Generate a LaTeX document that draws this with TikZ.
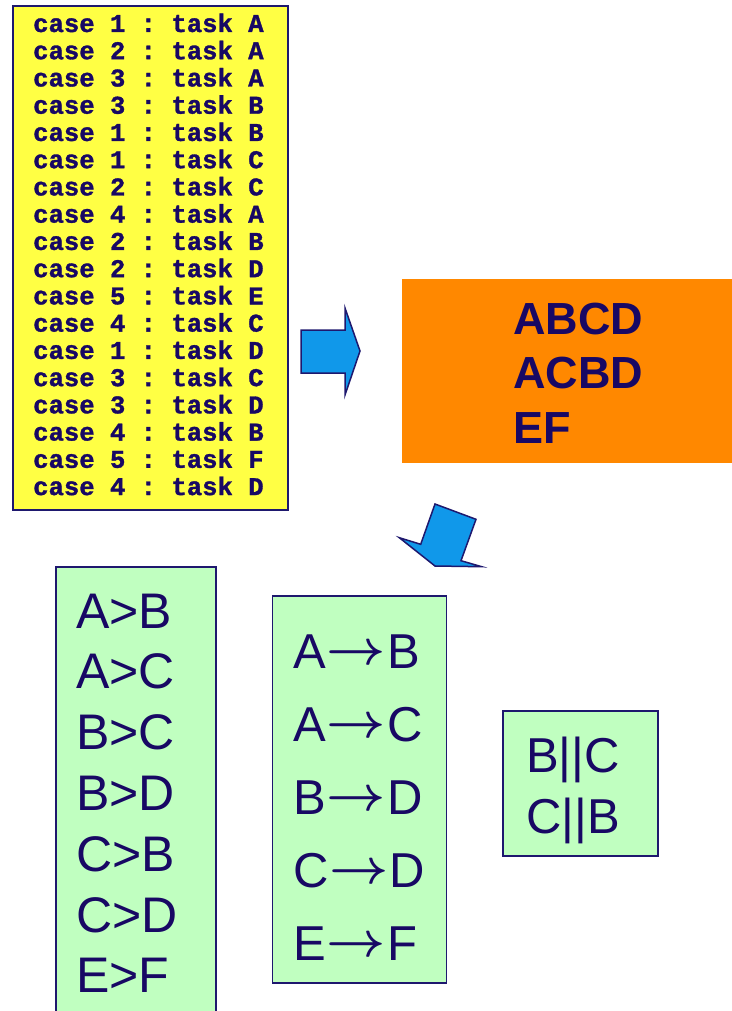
\RequirePackage{fix-cm}
\documentclass[tikz,border=0pt]{standalone}
\usepackage{fontspec}
\usepackage{graphicx}
\setmainfont{Liberation Sans}
\newfontfamily\logfont{Liberation Mono}[BoldFeatures={FakeBold=1.2}]
\definecolor{ink}{RGB}{24,8,100}
\definecolor{edge}{RGB}{30,24,110}
\definecolor{logbg}{RGB}{255,255,68}
\definecolor{tracebg}{RGB}{255,136,0}
\definecolor{relbg}{RGB}{192,255,192}
\definecolor{arrowbg}{RGB}{16,152,234}
\newcommand{\causal}{\kern1pt\raisebox{4pt}{\boldmath\scalebox{1.05}[1]{$\rightarrow$}}\kern1pt}
\begin{document}
\frenchspacing
\begin{tikzpicture}[x=1pt,y=-1pt,
  panel/.style={draw=edge,line width=1.6pt},
  bigarrow/.style={fill=arrowbg,draw=edge,line width=1.5pt,line join=miter},
  logline/.style={anchor=base west,inner sep=0pt,text=ink,
    font=\logfont\bfseries\frenchspacing\fontsize{25.6}{27}\selectfont},
  traceline/.style={anchor=base west,inner sep=0pt,text=ink,
    font=\bfseries\fontsize{45}{54}\selectfont},
  relline/.style={anchor=base west,inner sep=0pt,text=ink,
    font=\fontsize{50}{50}\selectfont},
  causalline/.style={anchor=base west,inner sep=0pt,text=ink,
    font=\fontsize{49}{49}\selectfont}]
\useasboundingbox (0,0) rectangle (731,1011);

% event log
\path[panel,fill=logbg] (13,6) rectangle (288,510);
\foreach \caseno/\task [count=\i] in {1/A,2/A,3/A,3/B,1/B,1/C,2/C,4/A,2/B,2/D,5/E,4/C,1/D,3/C,3/D,4/B,5/F,4/D}
  \node[logline] (log\i) at (33,{32+(\i-1)*27.24}) {case \caseno{} : task \task};

% arrow to the traces
\path[bigarrow] (301,330) -- (345,330) -- (345,308) -- (360,351) -- (345,395)
  -- (345,373) -- (301,373) -- cycle;

% traces
\path[fill=tracebg] (402,279) rectangle (740,463);
\node[traceline] (t1) at (513,334) {ABCD};
\node[traceline] (t2) at (513,388) {ACBD};
\node[traceline] (t3) at (513,443) {EF};

% arrow down to the relations
\path[bigarrow] (435,504) -- (476,519.3) -- (461,560.7) -- (481.7,566.7)
  -- (435,566) -- (399.3,537.7) -- (420.7,544.3) -- cycle;

% direct succession
\path[panel,fill=relbg] (56,567) rectangle (216,1030);
\foreach \rel [count=\i] in {A>B,A>C,B>C,B>D,C>B,C>D,E>F}
  \node[relline] (succ\i) at (76,{628+(\i-1)*60.8}) {\rel};

% causality
\path[panel,fill=relbg] (272.5,596) rectangle (446.5,983);
\node[causalline] (c1) at (293,668) {A\causal B};
\node[causalline] (c2) at (293,741) {A\causal C};
\node[causalline] (c3) at (293,814) {B\causal D};
\node[causalline] (c4) at (293,887) {C\causal D};
\node[causalline] (c5) at (293,960) {E\causal F};

% parallelism
\path[panel,fill=relbg] (503,711) rectangle (658,856);
\node[causalline] (p1) at (526,772) {B||C};
\node[causalline] (p2) at (526,833) {C||B};
\end{tikzpicture}
\end{document}
